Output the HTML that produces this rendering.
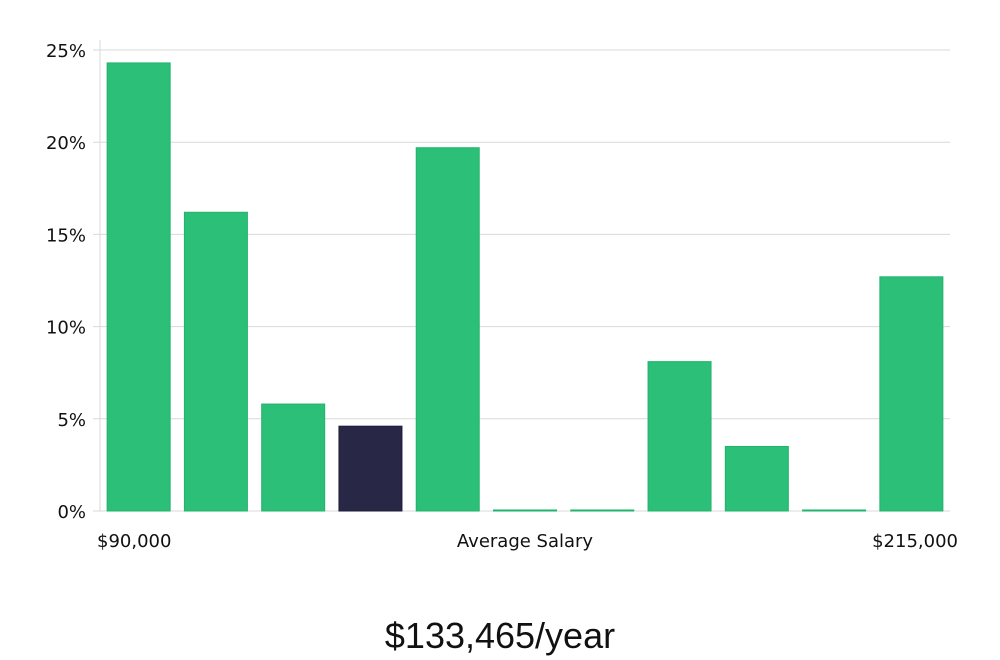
<!DOCTYPE html>
<html><head><meta charset="utf-8"><style>
html,body{margin:0;padding:0;background:#fff;width:1000px;height:660px;overflow:hidden}
svg text{font-family:"DejaVu Sans","Liberation Sans",sans-serif}
</style></head><body>
<svg id="chart" width="1000" height="660" viewBox="0 0 1000 660" xmlns="http://www.w3.org/2000/svg">
<g id="grid"></g>
<g id="yaxis"></g>
<g id="bars"></g>
<text x="97" y="547" font-size="18" fill="#111">$90,000</text>
<text x="525" y="547" font-size="18" fill="#111" text-anchor="middle">Average Salary</text>
<text x="958" y="547" font-size="18" fill="#111" text-anchor="end">$215,000</text>
<text x="500" y="648" font-size="36" fill="#111" text-anchor="middle" style="font-family:'Liberation Sans',sans-serif;font-weight:300">$133,465/year</text>
</svg>
<script>
const values = [24.3, 16.2, 5.8, 4.6, 19.7, 0.05, 0.05, 8.1, 3.5, 0.05, 12.7];
const highlightIndex = [3];
const yTicks = [0, 5, 10, 15, 20, 25];
const yTickLabels = ["0%", "5%", "10%", "15%", "20%", "25%"];

const NS = "http://www.w3.org/2000/svg";
const plotL = 100, plotR = 950, y0 = 511, yTop = 50, yMax = 25;
const y = v => y0 - (v / yMax) * (y0 - yTop);
const slot = (plotR - plotL) / values.length;
const bw = 63;
const x = i => plotL + slot * i + (slot - bw) / 2;
function mk(tag, attrs, parent) { const e = document.createElementNS(NS, tag); for (const k in attrs) e.setAttribute(k, attrs[k]); parent.appendChild(e); return e; }

const grid = document.getElementById('grid');
const yaxis = document.getElementById('yaxis');
yTicks.forEach((t, i) => {
  const l = mk('line', {x1: 93, x2: plotR, y1: y(t), y2: y(t), stroke: '#d9d9d9', 'stroke-width': 1}, grid);
  
  
  const tx = mk('text', {x: 86, y: y(t) + 7, 'font-size': 18, fill: '#111', 'text-anchor': 'end'}, yaxis);
  tx.textContent = yTickLabels[i];
  
  
});
const ax = mk('line', {x1: plotL, x2: plotL, y1: 40, y2: y0, stroke: '#d9d9d9', 'stroke-width': 1}, yaxis);



const bars = document.getElementById('bars');
values.forEach((v, i) => {
  const top = y(v);
  const h = Math.max(1, y0 - top);
  const hi = highlightIndex.includes(i);
  const r = mk('rect', {x: x(i), y: y0 - h, width: bw, height: h, fill: hi ? '#292746' : '#2bbf78', stroke: hi ? '#1e1c3c' : '#22b36c', 'stroke-width': 1}, bars);
  
  
});
</script>
</body></html>
